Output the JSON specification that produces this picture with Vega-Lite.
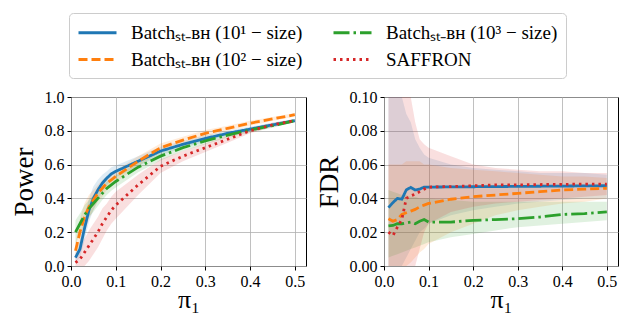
{
  "$schema": "https://vega.github.io/schema/vega-lite/v6.json",
  "padding": {"left": 9, "top": 12, "right": 4, "bottom": 0},
  "spacing": 78,
  "bounds": "flush",
  "datasets": {
    "d": [
      {"panel":"Power","method":"k1","pi":0.01,"v":0.05,"lo":0.02,"hi":0.08},
      {"panel":"Power","method":"k1","pi":0.02,"v":0.10,"lo":0.05,"hi":0.15},
      {"panel":"Power","method":"k1","pi":0.03,"v":0.22,"lo":0.15,"hi":0.29},
      {"panel":"Power","method":"k1","pi":0.04,"v":0.33,"lo":0.26,"hi":0.40},
      {"panel":"Power","method":"k1","pi":0.05,"v":0.40,"lo":0.33,"hi":0.47},
      {"panel":"Power","method":"k1","pi":0.06,"v":0.45,"lo":0.39,"hi":0.51},
      {"panel":"Power","method":"k1","pi":0.07,"v":0.49,"lo":0.44,"hi":0.54},
      {"panel":"Power","method":"k1","pi":0.08,"v":0.52,"lo":0.48,"hi":0.56},
      {"panel":"Power","method":"k1","pi":0.09,"v":0.545,"lo":0.505,"hi":0.585},
      {"panel":"Power","method":"k1","pi":0.10,"v":0.56,"lo":0.525,"hi":0.595},
      {"panel":"Power","method":"k1","pi":0.15,"v":0.62,"lo":0.59,"hi":0.65},
      {"panel":"Power","method":"k1","pi":0.20,"v":0.68,"lo":0.655,"hi":0.705},
      {"panel":"Power","method":"k1","pi":0.25,"v":0.72,"lo":0.70,"hi":0.74},
      {"panel":"Power","method":"k1","pi":0.30,"v":0.755,"lo":0.735,"hi":0.775},
      {"panel":"Power","method":"k1","pi":0.35,"v":0.785,"lo":0.77,"hi":0.80},
      {"panel":"Power","method":"k1","pi":0.40,"v":0.81,"lo":0.795,"hi":0.825},
      {"panel":"Power","method":"k1","pi":0.45,"v":0.835,"lo":0.823,"hi":0.847},
      {"panel":"Power","method":"k1","pi":0.50,"v":0.86,"lo":0.85,"hi":0.87},

      {"panel":"Power","method":"k2","pi":0.01,"v":0.09,"lo":0.04,"hi":0.14},
      {"panel":"Power","method":"k2","pi":0.02,"v":0.20,"lo":0.12,"hi":0.28},
      {"panel":"Power","method":"k2","pi":0.03,"v":0.29,"lo":0.21,"hi":0.37},
      {"panel":"Power","method":"k2","pi":0.04,"v":0.35,"lo":0.28,"hi":0.42},
      {"panel":"Power","method":"k2","pi":0.05,"v":0.39,"lo":0.33,"hi":0.45},
      {"panel":"Power","method":"k2","pi":0.06,"v":0.43,"lo":0.38,"hi":0.48},
      {"panel":"Power","method":"k2","pi":0.07,"v":0.46,"lo":0.41,"hi":0.51},
      {"panel":"Power","method":"k2","pi":0.08,"v":0.49,"lo":0.45,"hi":0.53},
      {"panel":"Power","method":"k2","pi":0.09,"v":0.51,"lo":0.47,"hi":0.55},
      {"panel":"Power","method":"k2","pi":0.10,"v":0.53,"lo":0.495,"hi":0.565},
      {"panel":"Power","method":"k2","pi":0.15,"v":0.62,"lo":0.59,"hi":0.65},
      {"panel":"Power","method":"k2","pi":0.20,"v":0.70,"lo":0.675,"hi":0.725},
      {"panel":"Power","method":"k2","pi":0.25,"v":0.745,"lo":0.725,"hi":0.765},
      {"panel":"Power","method":"k2","pi":0.30,"v":0.785,"lo":0.765,"hi":0.805},
      {"panel":"Power","method":"k2","pi":0.35,"v":0.815,"lo":0.80,"hi":0.83},
      {"panel":"Power","method":"k2","pi":0.40,"v":0.845,"lo":0.83,"hi":0.86},
      {"panel":"Power","method":"k2","pi":0.45,"v":0.87,"lo":0.858,"hi":0.882},
      {"panel":"Power","method":"k2","pi":0.50,"v":0.895,"lo":0.885,"hi":0.905},

      {"panel":"Power","method":"k3","pi":0.01,"v":0.20,"lo":0.13,"hi":0.27},
      {"panel":"Power","method":"k3","pi":0.02,"v":0.25,"lo":0.19,"hi":0.31},
      {"panel":"Power","method":"k3","pi":0.03,"v":0.30,"lo":0.24,"hi":0.36},
      {"panel":"Power","method":"k3","pi":0.04,"v":0.34,"lo":0.29,"hi":0.39},
      {"panel":"Power","method":"k3","pi":0.05,"v":0.37,"lo":0.32,"hi":0.42},
      {"panel":"Power","method":"k3","pi":0.06,"v":0.40,"lo":0.355,"hi":0.445},
      {"panel":"Power","method":"k3","pi":0.07,"v":0.43,"lo":0.39,"hi":0.47},
      {"panel":"Power","method":"k3","pi":0.08,"v":0.46,"lo":0.42,"hi":0.50},
      {"panel":"Power","method":"k3","pi":0.09,"v":0.48,"lo":0.445,"hi":0.515},
      {"panel":"Power","method":"k3","pi":0.10,"v":0.50,"lo":0.465,"hi":0.535},
      {"panel":"Power","method":"k3","pi":0.15,"v":0.585,"lo":0.555,"hi":0.615},
      {"panel":"Power","method":"k3","pi":0.20,"v":0.65,"lo":0.625,"hi":0.675},
      {"panel":"Power","method":"k3","pi":0.25,"v":0.70,"lo":0.68,"hi":0.72},
      {"panel":"Power","method":"k3","pi":0.30,"v":0.74,"lo":0.72,"hi":0.76},
      {"panel":"Power","method":"k3","pi":0.35,"v":0.775,"lo":0.76,"hi":0.79},
      {"panel":"Power","method":"k3","pi":0.40,"v":0.805,"lo":0.79,"hi":0.82},
      {"panel":"Power","method":"k3","pi":0.45,"v":0.83,"lo":0.818,"hi":0.842},
      {"panel":"Power","method":"k3","pi":0.50,"v":0.86,"lo":0.85,"hi":0.87},

      {"panel":"Power","method":"k4","pi":0.01,"v":0.02,"lo":0.0,"hi":0.05},
      {"panel":"Power","method":"k4","pi":0.02,"v":0.04,"lo":0.0,"hi":0.10},
      {"panel":"Power","method":"k4","pi":0.03,"v":0.08,"lo":0.0,"hi":0.16},
      {"panel":"Power","method":"k4","pi":0.04,"v":0.12,"lo":0.03,"hi":0.21},
      {"panel":"Power","method":"k4","pi":0.05,"v":0.16,"lo":0.07,"hi":0.25},
      {"panel":"Power","method":"k4","pi":0.06,"v":0.20,"lo":0.11,"hi":0.29},
      {"panel":"Power","method":"k4","pi":0.07,"v":0.25,"lo":0.16,"hi":0.34},
      {"panel":"Power","method":"k4","pi":0.08,"v":0.29,"lo":0.21,"hi":0.37},
      {"panel":"Power","method":"k4","pi":0.09,"v":0.33,"lo":0.25,"hi":0.41},
      {"panel":"Power","method":"k4","pi":0.10,"v":0.36,"lo":0.28,"hi":0.44},
      {"panel":"Power","method":"k4","pi":0.15,"v":0.48,"lo":0.42,"hi":0.54},
      {"panel":"Power","method":"k4","pi":0.20,"v":0.59,"lo":0.55,"hi":0.63},
      {"panel":"Power","method":"k4","pi":0.25,"v":0.65,"lo":0.62,"hi":0.68},
      {"panel":"Power","method":"k4","pi":0.30,"v":0.70,"lo":0.675,"hi":0.725},
      {"panel":"Power","method":"k4","pi":0.35,"v":0.75,"lo":0.73,"hi":0.77},
      {"panel":"Power","method":"k4","pi":0.40,"v":0.80,"lo":0.785,"hi":0.815},
      {"panel":"Power","method":"k4","pi":0.45,"v":0.835,"lo":0.823,"hi":0.847},
      {"panel":"Power","method":"k4","pi":0.50,"v":0.86,"lo":0.85,"hi":0.87},

      {"panel":"FDR","method":"k1","pi":0.01,"v":0.0345,"lo":0.0,"hi":0.12},
      {"panel":"FDR","method":"k1","pi":0.02,"v":0.0375,"lo":0.0,"hi":0.12},
      {"panel":"FDR","method":"k1","pi":0.03,"v":0.040,"lo":0.0,"hi":0.11},
      {"panel":"FDR","method":"k1","pi":0.04,"v":0.0395,"lo":0.0,"hi":0.10},
      {"panel":"FDR","method":"k1","pi":0.05,"v":0.045,"lo":0.005,"hi":0.09},
      {"panel":"FDR","method":"k1","pi":0.06,"v":0.0465,"lo":0.01,"hi":0.085},
      {"panel":"FDR","method":"k1","pi":0.07,"v":0.045,"lo":0.015,"hi":0.075},
      {"panel":"FDR","method":"k1","pi":0.08,"v":0.0455,"lo":0.02,"hi":0.07},
      {"panel":"FDR","method":"k1","pi":0.09,"v":0.0467,"lo":0.022,"hi":0.066},
      {"panel":"FDR","method":"k1","pi":0.10,"v":0.0467,"lo":0.025,"hi":0.064},
      {"panel":"FDR","method":"k1","pi":0.15,"v":0.0468,"lo":0.03,"hi":0.06},
      {"panel":"FDR","method":"k1","pi":0.20,"v":0.0469,"lo":0.033,"hi":0.058},
      {"panel":"FDR","method":"k1","pi":0.25,"v":0.047,"lo":0.035,"hi":0.057},
      {"panel":"FDR","method":"k1","pi":0.30,"v":0.0471,"lo":0.037,"hi":0.056},
      {"panel":"FDR","method":"k1","pi":0.35,"v":0.0472,"lo":0.038,"hi":0.055},
      {"panel":"FDR","method":"k1","pi":0.40,"v":0.0473,"lo":0.039,"hi":0.055},
      {"panel":"FDR","method":"k1","pi":0.45,"v":0.0474,"lo":0.04,"hi":0.055},
      {"panel":"FDR","method":"k1","pi":0.50,"v":0.0475,"lo":0.04,"hi":0.054},

      {"panel":"FDR","method":"k2","pi":0.01,"v":0.028,"lo":0.0,"hi":0.06},
      {"panel":"FDR","method":"k2","pi":0.02,"v":0.0265,"lo":0.0,"hi":0.06},
      {"panel":"FDR","method":"k2","pi":0.03,"v":0.0275,"lo":0.0,"hi":0.06},
      {"panel":"FDR","method":"k2","pi":0.04,"v":0.0305,"lo":0.0,"hi":0.06},
      {"panel":"FDR","method":"k2","pi":0.05,"v":0.0315,"lo":0.0,"hi":0.062},
      {"panel":"FDR","method":"k2","pi":0.06,"v":0.0325,"lo":0.002,"hi":0.062},
      {"panel":"FDR","method":"k2","pi":0.07,"v":0.0335,"lo":0.005,"hi":0.062},
      {"panel":"FDR","method":"k2","pi":0.08,"v":0.035,"lo":0.008,"hi":0.062},
      {"panel":"FDR","method":"k2","pi":0.09,"v":0.036,"lo":0.01,"hi":0.06},
      {"panel":"FDR","method":"k2","pi":0.10,"v":0.037,"lo":0.013,"hi":0.06},
      {"panel":"FDR","method":"k2","pi":0.15,"v":0.0395,"lo":0.02,"hi":0.058},
      {"panel":"FDR","method":"k2","pi":0.20,"v":0.041,"lo":0.025,"hi":0.057},
      {"panel":"FDR","method":"k2","pi":0.25,"v":0.042,"lo":0.03,"hi":0.056},
      {"panel":"FDR","method":"k2","pi":0.30,"v":0.043,"lo":0.033,"hi":0.055},
      {"panel":"FDR","method":"k2","pi":0.35,"v":0.044,"lo":0.035,"hi":0.054},
      {"panel":"FDR","method":"k2","pi":0.40,"v":0.045,"lo":0.037,"hi":0.053},
      {"panel":"FDR","method":"k2","pi":0.45,"v":0.0455,"lo":0.038,"hi":0.053},
      {"panel":"FDR","method":"k2","pi":0.50,"v":0.046,"lo":0.04,"hi":0.052},

      {"panel":"FDR","method":"k3","pi":0.01,"v":0.0237,"lo":0.005,"hi":0.045},
      {"panel":"FDR","method":"k3","pi":0.02,"v":0.024,"lo":0.006,"hi":0.044},
      {"panel":"FDR","method":"k3","pi":0.03,"v":0.025,"lo":0.007,"hi":0.043},
      {"panel":"FDR","method":"k3","pi":0.04,"v":0.025,"lo":0.008,"hi":0.042},
      {"panel":"FDR","method":"k3","pi":0.05,"v":0.0255,"lo":0.009,"hi":0.042},
      {"panel":"FDR","method":"k3","pi":0.06,"v":0.026,"lo":0.01,"hi":0.041},
      {"panel":"FDR","method":"k3","pi":0.07,"v":0.025,"lo":0.011,"hi":0.041},
      {"panel":"FDR","method":"k3","pi":0.08,"v":0.0265,"lo":0.012,"hi":0.04},
      {"panel":"FDR","method":"k3","pi":0.09,"v":0.0275,"lo":0.013,"hi":0.04},
      {"panel":"FDR","method":"k3","pi":0.10,"v":0.026,"lo":0.014,"hi":0.04},
      {"panel":"FDR","method":"k3","pi":0.15,"v":0.026,"lo":0.017,"hi":0.039},
      {"panel":"FDR","method":"k3","pi":0.20,"v":0.027,"lo":0.019,"hi":0.038},
      {"panel":"FDR","method":"k3","pi":0.25,"v":0.0275,"lo":0.021,"hi":0.038},
      {"panel":"FDR","method":"k3","pi":0.30,"v":0.028,"lo":0.023,"hi":0.038},
      {"panel":"FDR","method":"k3","pi":0.35,"v":0.029,"lo":0.024,"hi":0.038},
      {"panel":"FDR","method":"k3","pi":0.40,"v":0.0305,"lo":0.025,"hi":0.038},
      {"panel":"FDR","method":"k3","pi":0.45,"v":0.031,"lo":0.026,"hi":0.038},
      {"panel":"FDR","method":"k3","pi":0.50,"v":0.032,"lo":0.027,"hi":0.038},

      {"panel":"FDR","method":"k4","pi":0.01,"v":0.020,"lo":0.0,"hi":0.15},
      {"panel":"FDR","method":"k4","pi":0.02,"v":0.018,"lo":0.0,"hi":0.15},
      {"panel":"FDR","method":"k4","pi":0.03,"v":0.023,"lo":0.0,"hi":0.14},
      {"panel":"FDR","method":"k4","pi":0.04,"v":0.0275,"lo":0.0,"hi":0.13},
      {"panel":"FDR","method":"k4","pi":0.05,"v":0.040,"lo":0.0,"hi":0.11},
      {"panel":"FDR","method":"k4","pi":0.06,"v":0.0415,"lo":0.0,"hi":0.10},
      {"panel":"FDR","method":"k4","pi":0.07,"v":0.0425,"lo":0.0,"hi":0.085},
      {"panel":"FDR","method":"k4","pi":0.08,"v":0.044,"lo":0.01,"hi":0.075},
      {"panel":"FDR","method":"k4","pi":0.09,"v":0.0455,"lo":0.02,"hi":0.072},
      {"panel":"FDR","method":"k4","pi":0.10,"v":0.0467,"lo":0.025,"hi":0.07},
      {"panel":"FDR","method":"k4","pi":0.15,"v":0.047,"lo":0.032,"hi":0.065},
      {"panel":"FDR","method":"k4","pi":0.20,"v":0.0475,"lo":0.035,"hi":0.06},
      {"panel":"FDR","method":"k4","pi":0.25,"v":0.048,"lo":0.037,"hi":0.058},
      {"panel":"FDR","method":"k4","pi":0.30,"v":0.048,"lo":0.038,"hi":0.057},
      {"panel":"FDR","method":"k4","pi":0.35,"v":0.0482,"lo":0.039,"hi":0.056},
      {"panel":"FDR","method":"k4","pi":0.40,"v":0.0483,"lo":0.04,"hi":0.056},
      {"panel":"FDR","method":"k4","pi":0.45,"v":0.0485,"lo":0.041,"hi":0.055},
      {"panel":"FDR","method":"k4","pi":0.50,"v":0.0485,"lo":0.042,"hi":0.055}
    ],
    "target": [{"level": 0.05}]
  },
  "config": {
    "font": "Liberation Serif",
    "view": {"stroke": "black", "strokeWidth": 1},
    "axis": {
      "labelFont": "Liberation Serif", "labelFontSize": 16, "labelColor": "black",
      "titleFont": "Liberation Serif", "titleFontSize": 27, "titleFontWeight": "normal", "titleColor": "black",
      "domain": false, "tickColor": "black", "tickSize": 4, "tickWidth": 1,
      "gridColor": "#b0b0b0", "gridWidth": 0.8, "gridOpacity": 1, "labelPadding": 3,
      "labelOverlap": false, "labelFlush": false, "labelBound": false
    },
    "legend": {
      "columns": 2, "title": null,
      "labelFont": "Liberation Serif", "labelFontSize": 19, "labelColor": "black", "labelLimit": 400,
      "symbolType": "M-1.9,0H1.9", "symbolStrokeWidth": 3, "symbolSize": 400, "symbolOpacity": 1,
      "symbolOffset": 9, "labelOffset": 22, "columnPadding": 24, "rowPadding": 5,
      "strokeColor": "#cccccc", "cornerRadius": 4, "padding": 8, "fillColor": "white"
    }
  },
  "resolve": {"scale": {"color": "shared", "strokeDash": "shared"}, "legend": {"color": "shared", "strokeDash": "shared"}},
  "hconcat": [
    {
      "width": 235, "height": 169,
      "data": {"name": "d"},
      "transform": [{"filter": "datum.panel === 'Power'"}],
      "encoding": {
        "x": {"field": "pi", "type": "quantitative", "scale": {"domain": [0, 0.525], "nice": false, "zero": false},
              "axis": {"values": [0, 0.1, 0.2, 0.3, 0.4, 0.5], "format": ".1f", "title": "π₁", "titlePadding": -3, "titleFontSize": 26}},
        "color": {"field": "method", "type": "nominal",
                  "scale": {"domain": ["k1", "k2", "k3", "k4"], "range": ["#1f77b4", "#ff7f0e", "#2ca02c", "#d62728"]},
                  "legend": {"orient": "none", "legendX": -2, "legendY": -84,
                             "labelExpr": "datum.value === 'k1' ? 'Batchₛₜ₋ʙʜ (10¹ − size)' : datum.value === 'k2' ? 'Batchₛₜ₋ʙʜ (10² − size)' : datum.value === 'k3' ? 'Batchₛₜ₋ʙʜ (10³ − size)' : 'SAFFRON'"}}
      },
      "layer": [
        {
          "mark": {"type": "area", "opacity": 0.15, "clip": true},
          "encoding": {
            "y": {"field": "lo", "type": "quantitative", "scale": {"domain": [0, 1], "nice": false},
                  "axis": {"values": [0, 0.2, 0.4, 0.6, 0.8, 1.0], "format": ".1f", "title": "Power", "titlePadding": 6}},
            "y2": {"field": "hi"}
          }
        },
        {
          "mark": {"type": "line", "strokeWidth": 2.8, "clip": true},
          "encoding": {
            "y": {"field": "v", "type": "quantitative", "scale": {"domain": [0, 1], "nice": false},
                  "axis": {"values": [0, 0.2, 0.4, 0.6, 0.8, 1.0], "format": ".1f", "title": "Power", "titlePadding": 6}},
            "strokeDash": {"field": "method", "type": "nominal",
                           "scale": {"domain": ["k1", "k2", "k3", "k4"], "range": [[1, 0], [9, 4], [16, 4, 2.5, 4], [2.5, 4]]},
                           "legend": {"orient": "none", "legendX": -2, "legendY": -84,
                                      "labelExpr": "datum.value === 'k1' ? 'Batchₛₜ₋ʙʜ (10¹ − size)' : datum.value === 'k2' ? 'Batchₛₜ₋ʙʜ (10² − size)' : datum.value === 'k3' ? 'Batchₛₜ₋ʙʜ (10³ − size)' : 'SAFFRON'"}}
          }
        }
      ]
    },
    {
      "width": 234, "height": 169,
      "encoding": {
        "x": {"field": "pi", "type": "quantitative", "scale": {"domain": [0, 0.525], "nice": false, "zero": false},
              "axis": {"values": [0, 0.1, 0.2, 0.3, 0.4, 0.5], "format": ".1f", "title": "π₁", "titlePadding": -3, "titleFontSize": 26}}
      },
      "layer": [
        {
          "data": {"name": "d"},
          "transform": [{"filter": "datum.panel === 'FDR'"}],
          "mark": {"type": "area", "opacity": 0.15, "clip": true},
          "encoding": {
            "y": {"field": "lo", "type": "quantitative", "scale": {"domain": [0, 0.1], "nice": false},
                  "axis": {"values": [0, 0.02, 0.04, 0.06, 0.08, 0.1], "format": ".2f", "title": "FDR", "titlePadding": 6}},
            "y2": {"field": "hi"},
            "color": {"field": "method", "type": "nominal",
                      "scale": {"domain": ["k1", "k2", "k3", "k4"], "range": ["#1f77b4", "#ff7f0e", "#2ca02c", "#d62728"]}}
          }
        },
        {
          "data": {"name": "target"},
          "mark": {"type": "rule", "color": "black", "strokeWidth": 3},
          "encoding": {"y": {"field": "level", "type": "quantitative", "scale": {"domain": [0, 0.1], "nice": false},
                  "axis": {"values": [0, 0.02, 0.04, 0.06, 0.08, 0.1], "format": ".2f", "title": "FDR", "titlePadding": 6}}}
        },
        {
          "data": {"name": "d"},
          "transform": [{"filter": "datum.panel === 'FDR'"}],
          "mark": {"type": "line", "strokeWidth": 2.8, "clip": true},
          "encoding": {
            "y": {"field": "v", "type": "quantitative", "scale": {"domain": [0, 0.1], "nice": false},
                  "axis": {"values": [0, 0.02, 0.04, 0.06, 0.08, 0.1], "format": ".2f", "title": "FDR", "titlePadding": 6}},
            "color": {"field": "method", "type": "nominal",
                      "scale": {"domain": ["k1", "k2", "k3", "k4"], "range": ["#1f77b4", "#ff7f0e", "#2ca02c", "#d62728"]}},
            "strokeDash": {"field": "method", "type": "nominal",
                           "scale": {"domain": ["k1", "k2", "k3", "k4"], "range": [[1, 0], [9, 4], [16, 4, 2.5, 4], [2.5, 4]]}}
          }
        }
      ]
    }
  ]
}
